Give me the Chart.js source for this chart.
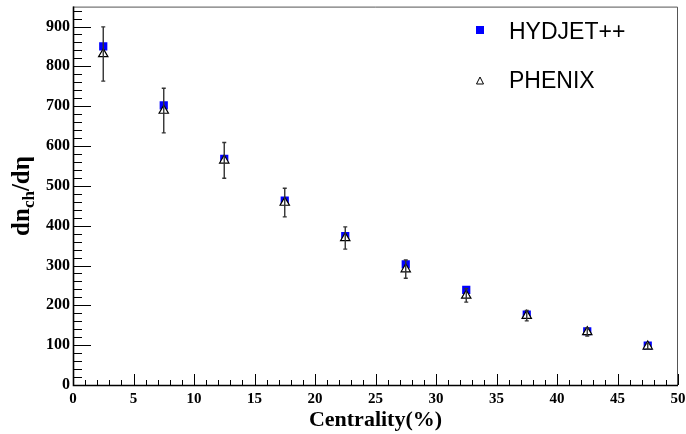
<!DOCTYPE html>
<html>
<head>
<meta charset="utf-8">
<script src="https://cdn.jsdelivr.net/npm/chart.js@4.4.1/dist/chart.umd.min.js"></script>
<style>
  html, body { margin: 0; padding: 0; background: #fff; }
  #wrap { width: 686px; height: 434px; }
</style>
</head>
<body>
<div id="wrap"><canvas id="chart" width="686" height="434"></canvas></div>
<script>
// centrality bin centres (%)
const centrality = [2.5, 7.5, 12.5, 17.5, 22.5, 27.5, 32.5, 37.5, 42.5, 47.5];
const hydjet = [850, 702, 568, 463, 374, 303, 239, 177, 135, 99];
const phenix = [831, 689, 564, 458, 369, 291, 225, 174, 133, 97];
const phenixErr = [68, 56, 45, 36, 28, 23, 17, 13, 10, 7];
const seriesNames = ['HYDJET++', 'PHENIX'];

const serif = '"Liberation Serif", "Times New Roman", serif';
const sans = '"Liberation Sans", Arial, sans-serif';

const toXY = (ys) => centrality.map((x, i) => ({ x, y: ys[i] }));

// error bars for PHENIX
const errorBars = {
  id: 'errorBars',
  afterDatasetsDraw(chart) {
    const { ctx } = chart;
    const yScale = chart.scales.y;
    const meta = chart.getDatasetMeta(1);
    ctx.save();
    ctx.strokeStyle = '#333';
    ctx.lineWidth = 1.4;
    meta.data.forEach((pt, i) => {
      const top = yScale.getPixelForValue(phenix[i] + phenixErr[i]);
      const bot = yScale.getPixelForValue(phenix[i] - phenixErr[i]);
      ctx.beginPath();
      ctx.moveTo(pt.x, top);
      ctx.lineTo(pt.x, bot);
      ctx.moveTo(pt.x - 2, top);
      ctx.lineTo(pt.x + 2, top);
      ctx.moveTo(pt.x - 2, bot);
      ctx.lineTo(pt.x + 2, bot);
      ctx.stroke();
    });
    ctx.restore();
  },
};

// ROOT-like frame, inward ticks, y title and legend
const frame = {
  id: 'frame',
  afterDraw(chart) {
    const { ctx, chartArea: a } = chart;
    const xs = chart.scales.x;
    const ys = chart.scales.y;
    ctx.save();
    ctx.strokeStyle = '#555';
    ctx.lineWidth = 1;
    ctx.beginPath();
    ctx.moveTo(a.left, a.top + 0.5);
    ctx.lineTo(a.right - 0.5, a.top + 0.5);
    ctx.lineTo(a.right - 0.5, a.bottom);
    ctx.stroke();

    ctx.strokeStyle = '#000';
    ctx.lineWidth = 1;
    ctx.beginPath();
    for (let v = 0; v <= 940; v += 20) {
      const y = Math.round(ys.getPixelForValue(v)) + 0.5;
      const len = v % 100 === 0 ? 18 : 9;
      ctx.moveTo(a.left, y);
      ctx.lineTo(a.left + len, y);
    }
    for (let v = 0; v <= 50; v += 1) {
      const x = Math.round(xs.getPixelForValue(v)) + 0.5;
      const len = v % 5 === 0 ? 11 : 5;
      ctx.moveTo(x, a.bottom);
      ctx.lineTo(x, a.bottom - len);
    }
    ctx.stroke();

    ctx.lineWidth = 1.6;
    ctx.beginPath();
    ctx.moveTo(a.left + 0.5, a.top);
    ctx.lineTo(a.left + 0.5, a.bottom + 0.5);
    ctx.lineTo(a.right, a.bottom + 0.5);
    ctx.stroke();

    // y title: dn_ch/dη
    ctx.translate(23, 196);
    ctx.rotate(-Math.PI / 2);
    ctx.fillStyle = '#000';
    ctx.textBaseline = 'middle';
    const big = 'bold 25px ' + serif;
    const small = 'bold 17px ' + serif;
    ctx.font = big;
    const w1 = ctx.measureText('dn').width;
    const w3 = ctx.measureText('/d\u03b7').width;
    ctx.font = small;
    const w2 = ctx.measureText('ch').width;
    let x0 = -(w1 + w2 + w3) / 2;
    ctx.font = big;
    ctx.fillText('dn', x0, 0);
    ctx.font = small;
    ctx.fillText('ch', x0 + w1, 7);
    ctx.font = big;
    ctx.fillText('/d\u03b7', x0 + w1 + w2, 0);
    ctx.restore();

    // legend
    ctx.save();
    const lx = a.right - 198;
    ctx.fillStyle = '#0000ff';
    ctx.fillRect(lx - 4, 26, 8, 8);
    ctx.fillStyle = '#fff';
    ctx.strokeStyle = '#000';
    ctx.lineWidth = 1;
    ctx.beginPath();
    ctx.moveTo(lx, 77);
    ctx.lineTo(lx + 3.5, 84);
    ctx.lineTo(lx - 3.5, 84);
    ctx.closePath();
    ctx.fill();
    ctx.stroke();
    ctx.fillStyle = '#000';
    ctx.font = '23px ' + sans;
    ctx.textBaseline = 'middle';
    ctx.fillText(seriesNames[0], lx + 29, 33);
    ctx.fillText(seriesNames[1], lx + 29, 82);
    ctx.restore();
  },
};

const config = {
  type: 'scatter',
  data: {
    datasets: [
      {
        label: seriesNames[0],
        data: toXY(hydjet),
        pointStyle: 'rect',
        pointRadius: 5.8,
        pointBackgroundColor: '#0000ff',
        pointBorderColor: '#0000ff',
        pointBorderWidth: 0,
        order: 2,
      },
      {
        label: seriesNames[1],
        data: toXY(phenix),
        pointStyle: 'triangle',
        pointRadius: 5.4,
        pointBackgroundColor: '#ffffff',
        pointBorderColor: '#000000',
        pointBorderWidth: 1.2,
        order: 1,
      },
    ],
  },
  options: {
    responsive: false,
    animation: false,
    devicePixelRatio: 1,
    layout: { padding: { top: 3, right: 8, left: 0, bottom: 0 } },
    plugins: {
      legend: { display: false },
      tooltip: { enabled: false },
    },
    scales: {
      x: {
        type: 'linear',
        min: 0,
        max: 50,
        border: { display: false },
        grid: { display: false, drawTicks: false },
        ticks: {
          stepSize: 5,
          padding: 5,
          maxRotation: 0,
          color: '#000',
          font: { family: serif, size: 15, weight: 'bold' },
        },
        title: {
          display: true,
          text: 'Centrality(%)',
          color: '#000',
          padding: 0,
          font: { family: serif, size: 22, weight: 'bold' },
        },
        afterFit(scale) {
          scale.height = 49;
          scale.paddingLeft = 0;
          scale.paddingRight = 0;
        },
      },
      y: {
        min: 0,
        max: 950,
        border: { display: false },
        grid: { display: false, drawTicks: false },
        ticks: {
          stepSize: 100,
          padding: 3,
          color: '#000',
          font: { family: serif, size: 16, weight: 'bold' },
        },
        afterBuildTicks(scale) {
          scale.ticks = scale.ticks.filter((t) => t.value % 100 === 0);
        },
        afterFit(scale) {
          scale.width = 73;
          scale.paddingTop = 0;
          scale.paddingBottom = 0;
        },
      },
    },
  },
  plugins: [errorBars, frame],
};

new Chart(document.querySelector('#chart'), config);
</script>
</body>
</html>
